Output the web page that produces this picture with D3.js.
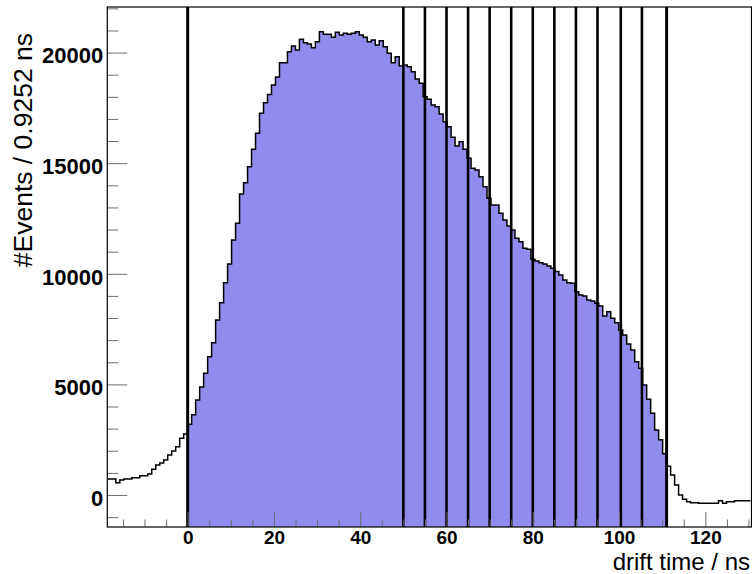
<!DOCTYPE html>
<html>
<head>
<meta charset="utf-8">
<script src="https://cdn.jsdelivr.net/npm/d3@7/dist/d3.min.js"></script>
<style>
  html, body { margin: 0; padding: 0; background: #fff; }
  svg { display: block; }
  text { font-family: "Liberation Sans", Arial, Helvetica, sans-serif; }
</style>
</head>
<body>
<div id="chart"></div>
<script>
// ---------------- data ----------------
const binWidth = 0.9252;          // ns
const firstBinIndex = -20;        // bin k covers [k*binWidth, (k+1)*binWidth]
const counts = [
  723, 723, 557, 678, 723, 723, 784, 784, 874, 874,
  950, 1160, 1356, 1450, 1584, 1808, 1990, 2185, 2562, 2758,
  3199, 3630, 4295, 4880, 5501, 6254, 6886, 7911, 8695, 9599,
  10443, 11528, 12281, 13608, 14118, 14842, 15630, 16350, 17254, 17736,
  18100, 18535, 18900, 19543, 19543, 20040, 20298, 20118, 20600, 20449,
  20389, 20223, 20494, 20946, 20826, 20826, 20690, 20916, 20796, 20871,
  20826, 20871, 20946, 20796, 20690, 20494, 20570, 20344, 20540, 20268,
  19967, 19543, 19815, 19394, 19440, 19364, 19138, 18806, 18610, 18007,
  17888, 17631, 17555, 17224, 16877, 16651, 16170, 15777, 15973, 15627,
  15220, 14768, 14693, 14391, 13938, 13412, 13110, 13110, 12734, 12432,
  12161, 11980, 11603, 11453, 11152, 11107, 10655, 10580, 10500, 10440,
  10350, 10250, 10100, 9950, 9720, 9600, 9570, 9190, 9042, 8997,
  8816, 8770, 8666, 8544, 8092, 8287, 7986, 7791, 7459, 7233,
  6826, 6555, 6026, 5728, 4973, 4330, 3692, 2939, 2500, 1870,
  1295, 904, 452, 0, -194, -303, -348, -348, -375, -375,
  -375, -375, -375, -258, -375, -303, -303, -258, -258, -258,
  -258
];
const fillBins = [0, 119];        // filled (selected) bin range
const cutLines = [0, 50, 55, 60, 65, 70, 75, 80, 85, 90, 95, 100.4, 105.3, 111.02];
const xDomain = [-18.63, 130.7];
const yDomain = [-1447, 22061];
const xMajorTicks = [0, 20, 40, 60, 80, 100, 120];
const xMinorTicks = [-15, -10, -5, 5, 10, 15, 25, 30, 35, 45, 50, 55, 65, 70, 75, 85, 90, 95, 105, 110, 115, 125, 130];
const yMajorTicks = [0, 5000, 10000, 15000, 20000];
const yMinorTicks = [-1000, 1000, 2000, 3000, 4000, 6000, 7000, 8000, 9000, 11000, 12000, 13000, 14000, 16000, 17000, 18000, 19000, 21000, 22000];
const xTitle = "drift time / ns";
const yTitle = "#Events / 0.9252 ns";

// ---------------- layout ----------------
const W = 752, H = 574;
const plot = { left: 107.3, right: 751.5, top: 7, bottom: 527 };

const svg = d3.select("#chart").append("svg").attr("width", W).attr("height", H);

const x = d3.scaleLinear().domain(xDomain).range([plot.left, plot.right]);
const y = d3.scaleLinear().domain(yDomain).range([plot.bottom, plot.top]);

svg.append("defs").append("clipPath").attr("id", "clip")
  .append("rect").attr("x", plot.left).attr("y", plot.top)
  .attr("width", plot.right - plot.left).attr("height", plot.bottom - plot.top);

const bins = counts.map((c, i) => ({ k: firstBinIndex + i, v: c }));
const stepPts = bins.map(b => [b.k * binWidth, b.v]);
const last = bins[bins.length - 1];
stepPts.push([(last.k + 1) * binWidth, last.v]);

const g = svg.append("g").attr("clip-path", "url(#clip)");

// filled region
const fillSel = bins.filter(b => b.k >= fillBins[0] && b.k <= fillBins[1]);
const fillPts = fillSel.map(b => [b.k * binWidth, b.v]);
fillPts.push([(fillBins[1] + 1) * binWidth, fillSel[fillSel.length - 1].v]);
g.append("path")
  .datum(fillPts)
  .attr("fill", "#928bee")
  .attr("stroke", "none")
  .attr("d", d3.area().curve(d3.curveStepAfter)
    .x(d => x(d[0])).y0(plot.bottom).y1(d => y(d[1])));

// histogram outline
g.append("path")
  .datum(stepPts)
  .attr("fill", "none")
  .attr("stroke", "#000")
  .attr("stroke-width", 1.5)
  .attr("d", d3.line().curve(d3.curveStepAfter).x(d => x(d[0])).y(d => y(d[1])));

// vertical cut lines
g.selectAll("line.cut").data(cutLines).enter().append("line")
  .attr("class", "cut")
  .attr("x1", d => x(d)).attr("x2", d => x(d))
  .attr("y1", plot.top).attr("y2", plot.bottom)
  .attr("stroke", "#000")
  .attr("stroke-width", (d, i) => (i === 0 || i === cutLines.length - 1) ? 3 : 2.6);

// axes
const tickColor = "#6f6f6f";
const xAxisMinor = d3.axisBottom(x).tickValues(xMinorTicks).tickSize(-7.5).tickFormat("");
const xAxisMajor = d3.axisBottom(x).tickValues(xMajorTicks).tickSize(-15).tickPadding(4).tickFormat(d3.format("d"));
const yAxisMinor = d3.axisLeft(y).tickValues(yMinorTicks).tickSize(-11).tickFormat("");
const yAxisMajor = d3.axisLeft(y).tickValues(yMajorTicks).tickSize(-20).tickPadding(4).tickFormat(d3.format("d"));

function style(sel, size) {
  sel.select(".domain").remove();
  sel.selectAll(".tick line").attr("stroke", tickColor).attr("stroke-width", 1);
  sel.selectAll(".tick text").attr("fill", "#000")
    .style("font-size", size + "px").style("font-weight", "bold")
    .style("font-family", "'Liberation Sans', Arial, Helvetica, sans-serif");
}
svg.append("g").attr("transform", `translate(0,${plot.bottom})`).call(xAxisMinor).call(style, 19);
svg.append("g").attr("transform", `translate(0,${plot.bottom})`).call(xAxisMajor).call(style, 19);
svg.append("g").attr("transform", `translate(${plot.left},0)`).call(yAxisMinor).call(style, 22);
const ya = svg.append("g").attr("transform", `translate(${plot.left},0)`).call(yAxisMajor).call(style, 22);
ya.selectAll(".tick text").attr("dy", "0.47em");

// frame
svg.append("rect")
  .attr("x", plot.left).attr("y", plot.top)
  .attr("width", plot.right - plot.left).attr("height", plot.bottom - plot.top)
  .attr("fill", "none").attr("stroke", "#000").attr("stroke-width", 1.2);

// titles
svg.append("text")
  .attr("x", 750).attr("y", 569.7)
  .attr("text-anchor", "end")
  .style("font-size", "24px")
  .text(xTitle);

svg.append("text")
  .attr("transform", `translate(32,33) rotate(-90)`)
  .attr("text-anchor", "end")
  .style("font-size", "26.5px")
  .text(yTitle);
</script>
</body>
</html>
